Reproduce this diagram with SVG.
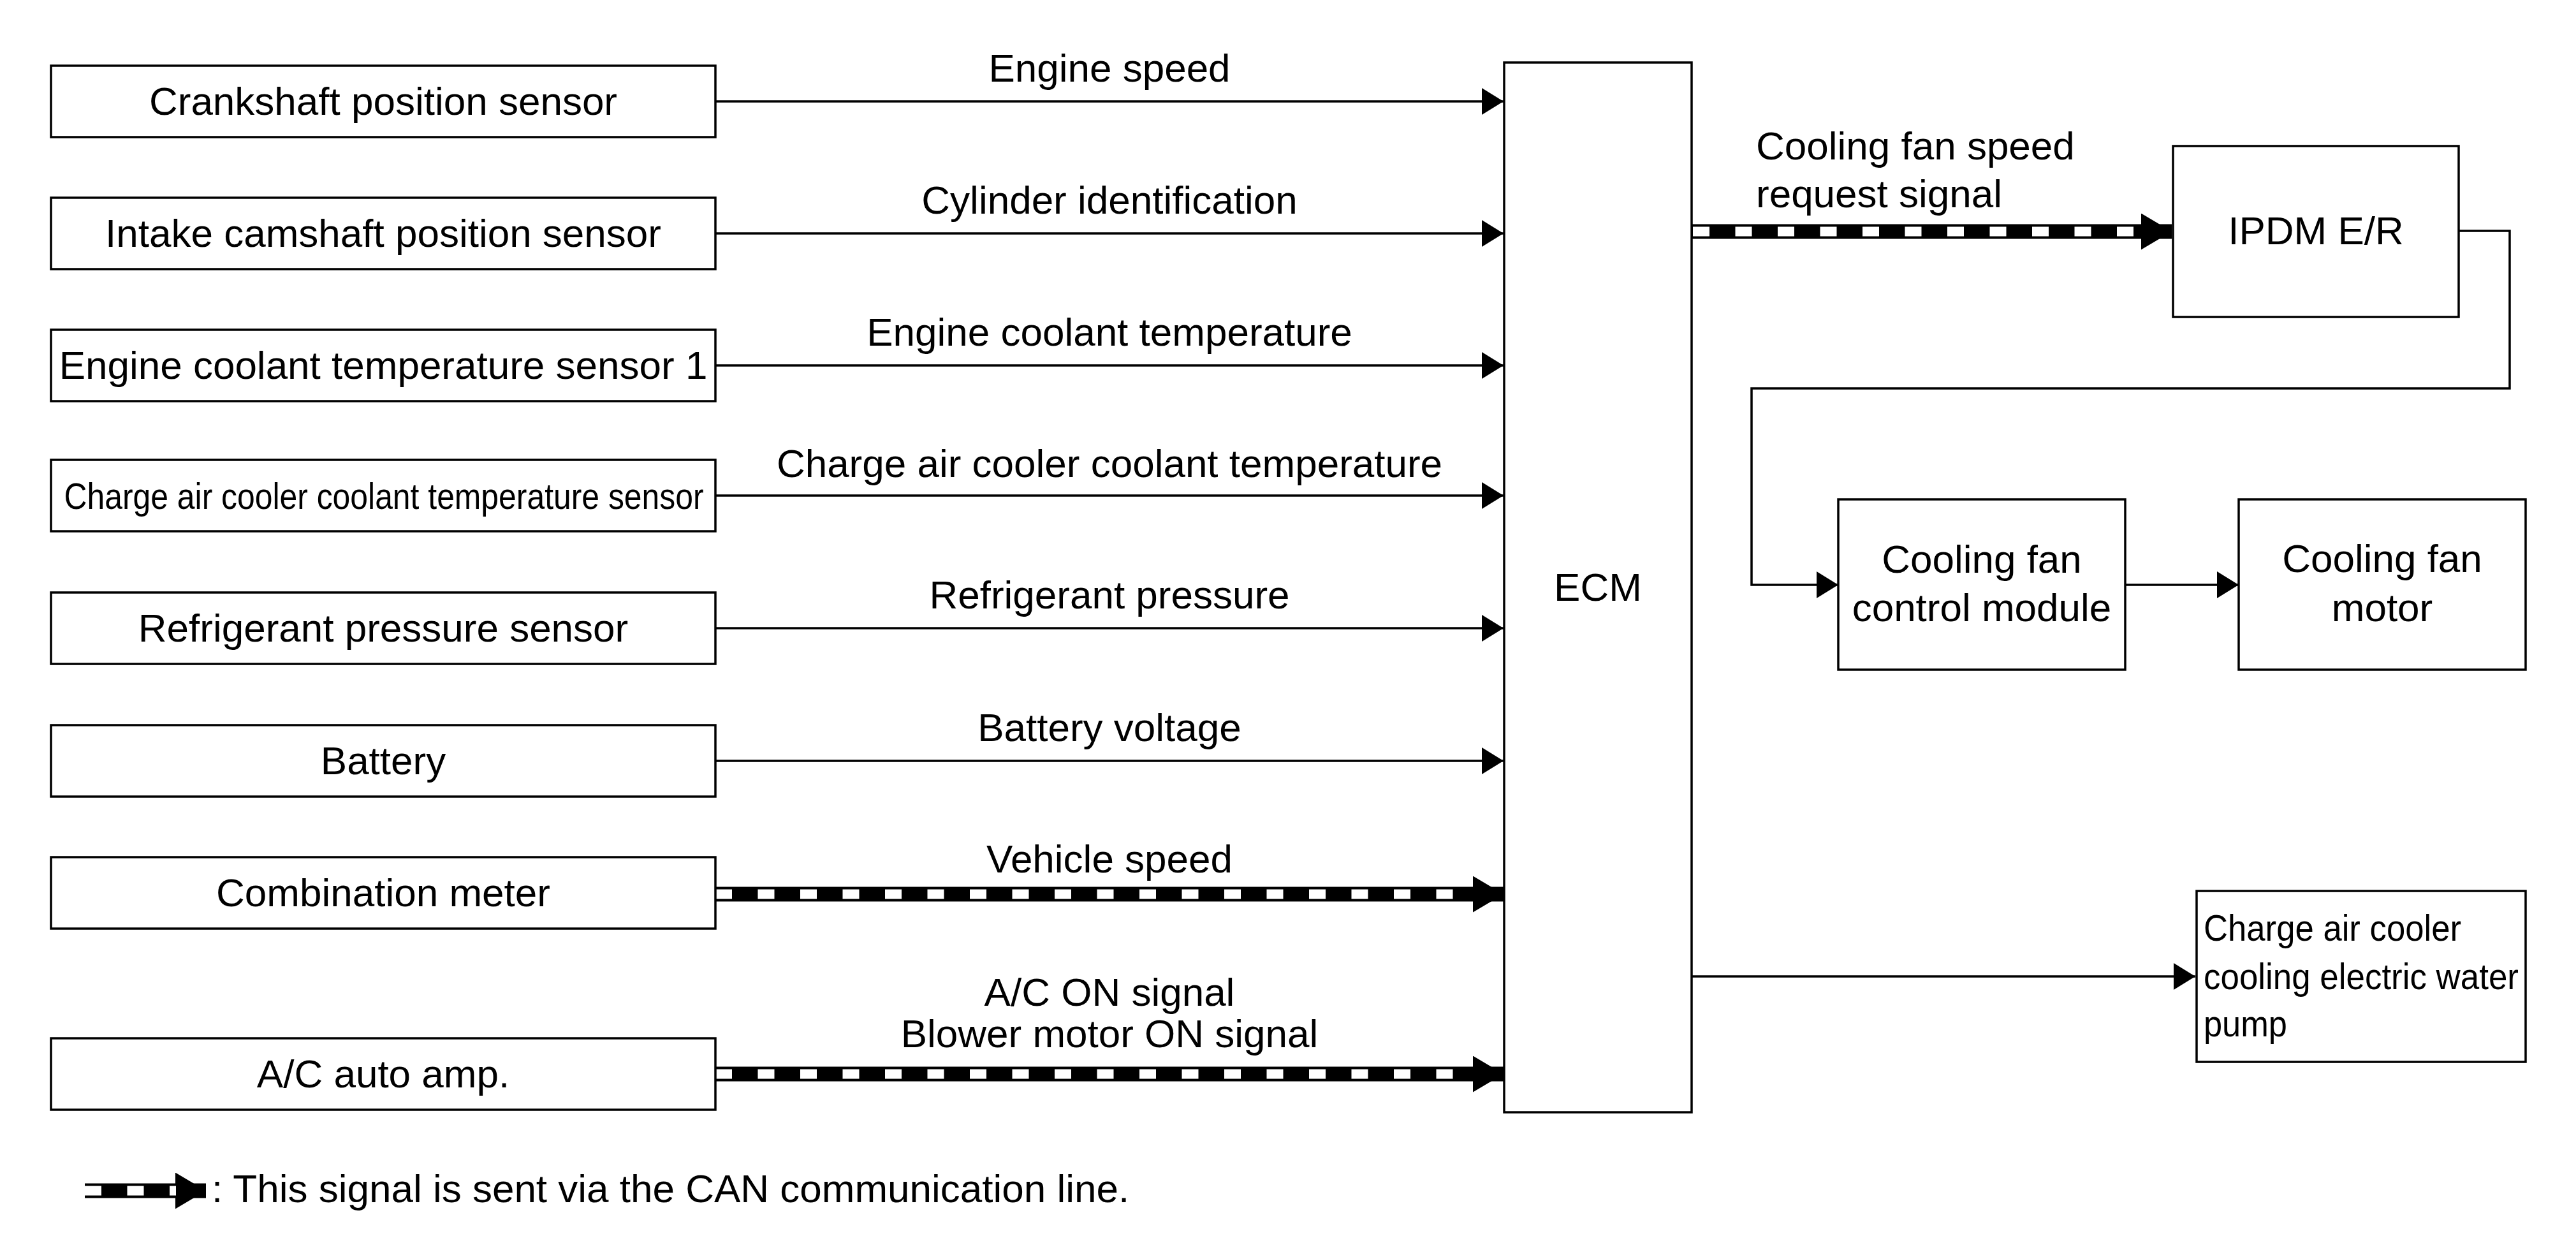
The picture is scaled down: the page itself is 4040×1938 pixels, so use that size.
<svg xmlns="http://www.w3.org/2000/svg" width="4040" height="1938" viewBox="0 0 4040 1938">
<style>
  .box { fill: #ffffff; stroke: #000000; stroke-width: 3.5; }
  .t { font-family: "Liberation Sans", Arial, sans-serif; font-size: 62px; fill: #000000; }
  .c { text-anchor: middle; }
  .wire { fill: none; stroke: #000000; stroke-width: 3.5; }
  .can { fill: none; stroke: #000000; stroke-width: 23; }
  .canw { fill: none; stroke: #ffffff; stroke-width: 15; stroke-dasharray: 26 40.5; }
</style>
<defs>
  <marker id="ah" markerUnits="userSpaceOnUse" viewBox="0 0 34 42" refX="34" refY="21" markerWidth="34" markerHeight="42" orient="auto">
    <path d="M0,0 L34,21 L0,42 Z" fill="#000000"/>
  </marker>
  <marker id="canh" markerUnits="userSpaceOnUse" viewBox="0 0 48 57" refX="48" refY="28.5" markerWidth="48" markerHeight="57" orient="auto">
    <path d="M0,0 L48,28.5 L0,57 Z" fill="#000000"/>
  </marker>
</defs>
<rect width="4040" height="1938" fill="#ffffff"/>

<g id="connectors">
  <line class="wire" x1="1122" y1="159" x2="2358" y2="159" marker-end="url(#ah)"/>
  <line class="wire" x1="1122" y1="366" x2="2358" y2="366" marker-end="url(#ah)"/>
  <line class="wire" x1="1122" y1="573" x2="2358" y2="573" marker-end="url(#ah)"/>
  <line class="wire" x1="1122" y1="777" x2="2358" y2="777" marker-end="url(#ah)"/>
  <line class="wire" x1="1122" y1="985" x2="2358" y2="985" marker-end="url(#ah)"/>
  <line class="wire" x1="1122" y1="1193" x2="2358" y2="1193" marker-end="url(#ah)"/>
  <line class="can" x1="1122" y1="1402" x2="2358" y2="1402" marker-end="url(#canh)"/>
  <line class="canw" x1="1122" y1="1402" x2="2310" y2="1402"/>
  <line class="can" x1="1122" y1="1684" x2="2358" y2="1684" marker-end="url(#canh)"/>
  <line class="canw" x1="1122" y1="1684" x2="2310" y2="1684"/>
  <line class="can" x1="2653" y1="363" x2="3406" y2="363" marker-end="url(#canh)"/>
  <line class="canw" x1="2655" y1="363" x2="3358" y2="363"/>
  <polyline class="wire" points="3856,362 3936,362 3936,609 2747,609 2747,917 2883,917" marker-end="url(#ah)"/>
  <line class="wire" x1="3333" y1="917" x2="3511" y2="917" marker-end="url(#ah)"/>
  <line class="wire" x1="2653" y1="1531" x2="3443" y2="1531" marker-end="url(#ah)"/>
  <text class="t c" x="1740" y="128">Engine speed</text>
  <text class="t c" x="1740" y="335">Cylinder identification</text>
  <text class="t c" x="1740" y="542">Engine coolant temperature</text>
  <text class="t c" x="1740" y="748">Charge air cooler coolant temperature</text>
  <text class="t c" x="1740" y="954">Refrigerant pressure</text>
  <text class="t c" x="1740" y="1162">Battery voltage</text>
  <text class="t c" x="1740" y="1368">Vehicle speed</text>
  <text class="t c" x="1740" y="1577">A/C ON signal</text>
  <text class="t c" x="1740" y="1642">Blower motor ON signal</text>
  <text class="t" x="2754" y="250">Cooling fan speed</text>
  <text class="t" x="2754" y="325">request signal</text>
</g>

<g id="crankshaft">
  <rect class="box" x="80" y="103" width="1042" height="112"/>
  <text class="t c" x="601" y="180">Crankshaft position sensor</text>
</g>
<g id="intake-cam">
  <rect class="box" x="80" y="310" width="1042" height="112"/>
  <text class="t c" x="601" y="387">Intake camshaft position sensor</text>
</g>
<g id="ect-sensor">
  <rect class="box" x="80" y="517" width="1042" height="112"/>
  <text class="t c" x="601" y="594">Engine coolant temperature sensor 1</text>
</g>
<g id="cac-sensor">
  <rect class="box" x="80" y="721" width="1042" height="112"/>
  <text class="t c" x="602" y="798" style="font-size:58px" textLength="1003" lengthAdjust="spacingAndGlyphs">Charge air cooler coolant temperature sensor</text>
</g>
<g id="refrigerant">
  <rect class="box" x="80" y="929" width="1042" height="112"/>
  <text class="t c" x="601" y="1006">Refrigerant pressure sensor</text>
</g>
<g id="battery">
  <rect class="box" x="80" y="1137" width="1042" height="112"/>
  <text class="t c" x="601" y="1214">Battery</text>
</g>
<g id="combination-meter">
  <rect class="box" x="80" y="1344" width="1042" height="112"/>
  <text class="t c" x="601" y="1421">Combination meter</text>
</g>
<g id="ac-auto-amp">
  <rect class="box" x="80" y="1628" width="1042" height="112"/>
  <text class="t c" x="601" y="1705">A/C auto amp.</text>
</g>
<g id="ecm">
  <rect class="box" x="2359" y="98" width="294" height="1646"/>
  <text class="t c" x="2506" y="942">ECM</text>
</g>
<g id="ipdm">
  <rect class="box" x="3408" y="229" width="448" height="268"/>
  <text class="t c" x="3632" y="383">IPDM E/R</text>
</g>
<g id="fan-control-module">
  <rect class="box" x="2883" y="783" width="450" height="267"/>
  <text class="t c" x="3108" y="898">Cooling fan</text>
  <text class="t c" x="3108" y="974">control module</text>
</g>
<g id="fan-motor">
  <rect class="box" x="3511" y="783" width="450" height="267"/>
  <text class="t c" x="3736" y="897">Cooling fan</text>
  <text class="t c" x="3736" y="974">motor</text>
</g>
<g id="water-pump">
  <rect class="box" x="3445" y="1397" width="516" height="268"/>
  <text class="t" x="3456" y="1475" style="font-size:58px" textLength="404" lengthAdjust="spacingAndGlyphs">Charge air cooler</text>
  <text class="t" x="3456" y="1551" style="font-size:58px" textLength="494" lengthAdjust="spacingAndGlyphs">cooling electric water</text>
  <text class="t" x="3456" y="1625" style="font-size:58px" textLength="131" lengthAdjust="spacingAndGlyphs">pump</text>
</g>

<g id="legend">
  <line class="can" x1="133" y1="1867" x2="323" y2="1867" marker-end="url(#canh)"/>
  <line class="canw" x1="133" y1="1867" x2="276" y2="1867"/>
  <text class="t" x="332" y="1885">: This signal is sent via the CAN communication line.</text>
</g>
</svg>
